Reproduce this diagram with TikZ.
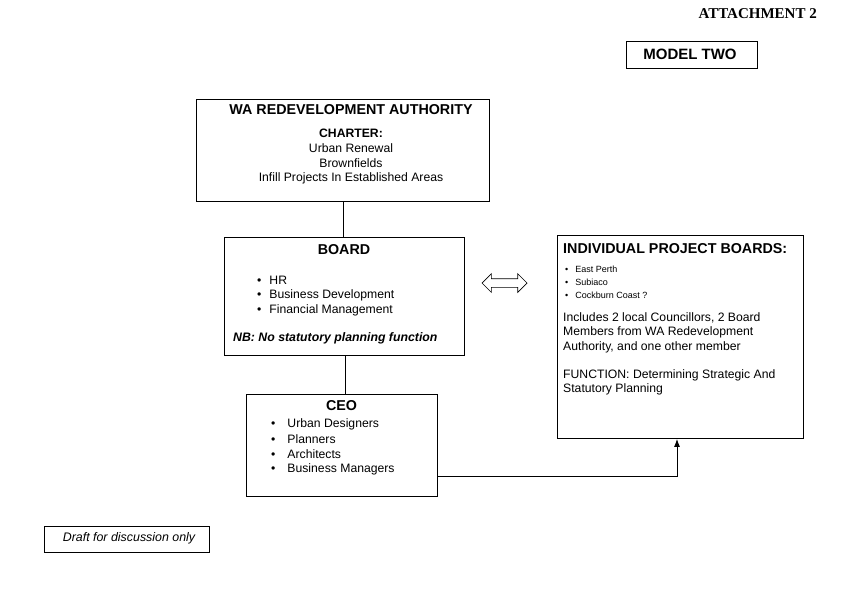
\documentclass[tikz,border=0pt]{standalone}
\usepackage{fontspec}
\setmainfont{Liberation Sans}
\newfontfamily\attachfont{Liberation Serif}
\usetikzlibrary{arrows.meta,shapes.arrows}

\tikzset{
  box/.style={draw,line width=0.9pt,inner sep=0,anchor=north west},
  txt/.style={inner sep=0,font=\fontsize{12.2}{14.5}\selectfont},
  head/.style={inner sep=0,font=\bfseries\fontsize{14.3}{16}\selectfont},
  item/.style={inner sep=0,anchor=west,font=\fontsize{12.2}{14.5}\selectfont},
  small/.style={item,font=\fontsize{9}{10}\selectfont},
  link/.style={line width=0.9pt}
}

\begin{document}
\begin{tikzpicture}[x=1pt,y=-1pt]
\useasboundingbox (0,0) rectangle (845,589);
% heading
\node[inner sep=0,anchor=east,font=\attachfont\bfseries\fontsize{15}{17}\selectfont] (attach) at (817,14) {ATTACHMENT 2};
\node[box,minimum width=131,minimum height=27] (model) at (626,41) {};
\node[inner sep=0,font=\bfseries\fontsize{15}{17}\selectfont] (modeltxt) at (690,54) {MODEL TWO};
% authority
\node[box,minimum width=293,minimum height=102] (wa) at (196,99) {};
\node[head] (watitle) at (351,110) {WA REDEVELOPMENT AUTHORITY};
\node[txt,font=\bfseries\fontsize{12.2}{14.5}\selectfont] (charter) at (351,133) {CHARTER:};
\node[txt] (ch1) at (351,148) {Urban Renewal};
\node[txt] (ch2) at (351,163) {Brownfields};
\node[txt] (ch3) at (351,178) {Infill Projects In Established Areas};
% board
\node[box,minimum width=240,minimum height=118] (board) at (224,237) {};
\node[head] (boardtitle) at (344,250) {BOARD};
\node[item] (b1) at (257,280) {\textbullet\hspace{8pt}HR};
\node[item] (b2) at (257,295) {\textbullet\hspace{8pt}Business Development};
\node[item] (b3) at (257,310) {\textbullet\hspace{8pt}Financial Management};
\node[item,font=\bfseries\itshape\fontsize{12.3}{14.5}\selectfont] (nb) at (233,338) {NB: No statutory planning function};
% ceo
\node[box,minimum width=191,minimum height=102] (ceo) at (246,394) {};
\node[head] (ceotitle) at (341.5,406) {CEO};
\node[item] (c1) at (271,424) {\textbullet\hspace{12pt}Urban Designers};
\node[item] (c2) at (271,439) {\textbullet\hspace{12pt}Planners};
\node[item] (c3) at (271,454) {\textbullet\hspace{12pt}Architects};
\node[item] (c4) at (271,469) {\textbullet\hspace{12pt}Business Managers};
% project boards
\node[box,minimum width=246,minimum height=203] (ipb) at (557,235) {};
\node[head,anchor=west] (ipbtitle) at (563,249) {INDIVIDUAL PROJECT BOARDS:};
\node[small] (p1) at (565,269) {\textbullet\hspace{7pt}East Perth};
\node[small] (p2) at (565,282) {\textbullet\hspace{7pt}Subiaco};
\node[small] (p3) at (565,295) {\textbullet\hspace{7pt}Cockburn Coast ?};
\node[item,anchor=north west,align=left] (members) at (563,312) {Includes 2 local Councillors, 2 Board\\Members from WA Redevelopment\\Authority, and one other member};
\node[item,anchor=north west,align=left] (function) at (563,369) {FUNCTION: Determining Strategic And\\Statutory Planning};
% footer
\node[box,minimum width=165,minimum height=26] (draft) at (44,526) {};
\node[txt,font=\itshape\fontsize{12.4}{14.5}\selectfont] (drafttxt) at (129,538) {Draft for discussion only};
% links
\node[double arrow,draw,line width=0.7pt,inner sep=4pt,minimum height=45pt,minimum width=18pt,double arrow head extend=5pt] (swap) at (504.5,283) {};
\draw[link] (wa.south -| 343,0) -- (board.north -| 343,0);
\draw[link] (board.south -| 345,0) -- (ceo.north -| 345,0);
\draw[link,-{Latex[length=8pt,width=6pt]}] (ceo.east |- 0,476) -| (ipb.south -| 677,0);
\end{tikzpicture}
\end{document}
